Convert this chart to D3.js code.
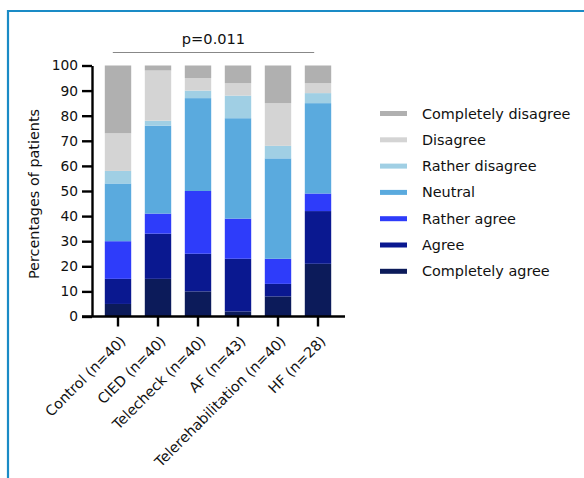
<!DOCTYPE html>
<html>
<head>
<meta charset="utf-8">
<script src="https://cdn.jsdelivr.net/npm/d3@7"></script>
<style>
  html, body { margin: 0; padding: 0; background: #fff; }
  svg { display: block; font-family: "DejaVu Sans", Verdana, sans-serif; }
</style>
</head>
<body>
<svg id="chart" width="584" height="478"></svg>
<script>
// Groups on the x axis
const categories = ["Control (n=40)", "CIED (n=40)", "Telecheck (n=40)", "AF (n=43)", "Telerehabilitation (n=40)", "HF (n=28)"];

// Response levels, bottom of the stack first
const responses = ["Completely agree", "Agree", "Rather agree", "Neutral", "Rather disagree", "Disagree", "Completely disagree"];

// Percentage of patients per response level, one value per group
const completelyAgree    = [5, 15, 10, 2, 8, 21];
const agree              = [10, 18, 15, 21, 5, 21];
const ratherAgree        = [15, 8, 25, 16, 10, 7];
const neutral            = [23, 35, 37, 40, 40, 36];
const ratherDisagree     = [5, 2, 3, 9, 5, 4];
const disagree           = [15, 20, 5, 5, 17, 4];
const completelyDisagree = [27, 2, 5, 7, 15, 7];

const yTicks = [0, 10, 20, 30, 40, 50, 60, 70, 80, 90, 100];
const pLabel = "p=0.011";

const colors = ["#0c1b5a", "#0a1890", "#2e3cfa", "#5aaade", "#a0cfe4", "#d4d4d4", "#b0b0b0"];

const seriesValues = [completelyAgree, agree, ratherAgree, neutral, ratherDisagree, disagree, completelyDisagree];

// Build one row per group for d3.stack
const rows = categories.map((c, i) => {
  const r = { category: c };
  responses.forEach((k, j) => { r[k] = seriesValues[j][i]; });
  return r;
});
const stacked = d3.stack().keys(responses)(rows);

const svg = d3.select("#chart");
const font = "'DejaVu Sans', Verdana, sans-serif";

// Outer frame (top and left rules)
svg.append("line").attr("x1", 8).attr("x2", 584).attr("y1", 11).attr("y2", 11)
  .attr("stroke", "#1a8bc6").attr("stroke-width", 2.2);
svg.append("line").attr("x1", 8).attr("x2", 8).attr("y1", 10).attr("y2", 478)
  .attr("stroke", "#1a8bc6").attr("stroke-width", 2.2);

const x = d3.scaleBand().domain(categories).range([98, 338]).paddingInner(0.34).paddingOuter(0.17);
const y = d3.scaleLinear().domain([0, 100]).range([316.5, 65.5]);
const color = d3.scaleOrdinal().domain(responses).range(colors);

// Stacked bars
svg.append("g").selectAll("g").data(stacked).join("g")
  .attr("fill", d => color(d.key))
  .selectAll("rect").data(d => d).join("rect")
  .attr("x", d => x(d.data.category))
  .attr("width", x.bandwidth())
  .attr("y", d => y(d[1]))
  .attr("height", d => y(d[0]) - y(d[1]));

// Y axis
const yAxis = svg.append("g").attr("transform", "translate(92,0)")
  .call(d3.axisLeft(y).tickValues(yTicks).tickSize(10).tickPadding(4).tickSizeOuter(0));
yAxis.select(".domain").attr("stroke-width", 2.4);
yAxis.selectAll(".tick line").attr("stroke-width", 2.4);
yAxis.selectAll("text").attr("font-size", 13.8).attr("fill", "#111").attr("font-family", font);

// X axis
const xAxis = svg.append("g").attr("transform", `translate(0,${y(0)})`)
  .call(d3.axisBottom(x).tickSize(10).tickSizeOuter(0));
xAxis.select(".domain").attr("d", `M82,0H345`).attr("stroke-width", 2.4);
xAxis.selectAll(".tick line").attr("stroke-width", 2.4);
xAxis.selectAll("text")
  .attr("font-size", 14.3).attr("fill", "#111").attr("font-family", font)
  .attr("text-anchor", "end")
  .attr("x", 0).attr("y", 0)
  .attr("dy", "0.35em")
  .attr("transform", "translate(5,22) rotate(-45)");

// Axis title
svg.append("text")
  .attr("transform", `translate(39,${(y(0) + y(100)) / 2 + 3}) rotate(-90)`)
  .attr("text-anchor", "middle")
  .attr("font-size", 14.4).attr("fill", "#111")
  .text("Percentages of patients");

// Significance bracket
const xFirst = x(categories[0]);
const xLast = x(categories[categories.length - 1]) + x.bandwidth();
svg.append("line").attr("x1", xFirst + 8).attr("x2", xLast - 17)
  .attr("y1", 52.5).attr("y2", 52.5).attr("stroke", "#888").attr("stroke-width", 1);
svg.append("text").attr("x", (xFirst + 8 + xLast - 17) / 2).attr("y", 43.5)
  .attr("text-anchor", "middle").attr("font-size", 14.6).attr("fill", "#111")
  .text(pLabel);

// Legend, top entry is the top of the stack
const legendItems = responses.slice().reverse();
const legend = svg.append("g").selectAll("g").data(legendItems).join("g")
  .attr("transform", (d, i) => `translate(380,${113.5 + i * 26.3})`);
legend.append("rect").attr("x", 0).attr("y", -2.5).attr("width", 27).attr("height", 5)
  .attr("fill", d => color(d));
legend.append("text").attr("x", 42).attr("y", 0).attr("dy", "0.35em")
  .attr("font-size", 14.4).attr("fill", "#111").text(d => d);
</script>
</body>
</html>
